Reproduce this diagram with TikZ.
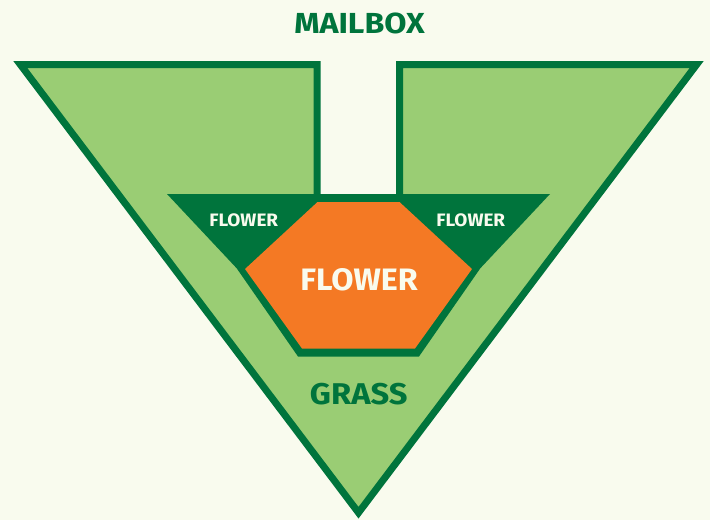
\documentclass[tikz,border=0pt]{standalone}
\usepackage{fontspec}
\setmainfont{Fira Sans}
\definecolor{bgc}{HTML}{F9FBEE}
\definecolor{lgreen}{HTML}{9ACD74}
\definecolor{dgreen}{HTML}{00743C}
\definecolor{orng}{HTML}{F47924}
\begin{document}
\begin{tikzpicture}[x=1pt,y=-1pt,
  lbl/.style={font=\bfseries, inner sep=0pt, anchor=center},
  darktxt/.style={lbl, text=dgreen},
  lighttxt/.style={lbl, text=bgc}]
\fill[bgc] (0,0) rectangle (710,520);
\useasboundingbox (0,0) rectangle (710,520);
% outer grass shape
\draw[line width=7pt, draw=dgreen, fill=lgreen, line join=miter]
  (20.3,64.5) -- (317,64.5) -- (317,197.5) -- (399.5,197.5) -- (399.5,64.5)
  -- (696.7,64.5) -- (358.5,512.7) -- cycle;
% dark flower band
\fill[dgreen] (167,194) -- (550,194) -- (480.3,268.3) -- (419,356.5)
  -- (298,356.5) -- (236.7,268.3) -- cycle;
% orange hexagon
\fill[orng] (317.5,202) -- (399.5,202) -- (472,269) -- (415,348.5)
  -- (302,348.5) -- (245,269) -- cycle;
% labels
\node[darktxt, font=\bfseries\fontsize{29}{29}\selectfont] (mailbox) at (359.5,23.5) {\scalebox{1.11}[1]{MAILBOX}};
\node[darktxt, font=\bfseries\fontsize{30}{30}\selectfont] (grass) at (358.8,394.5) {\scalebox{1.09}[1]{GRASS}};
\node[lighttxt, font=\bfseries\fontsize{31}{31}\selectfont] (fc) at (359,280) {\scalebox{1.04}[1]{FLOWER}};
\node[lighttxt, font=\bfseries\fontsize{18}{18}\selectfont] (fl) at (243.7,220.5) {\scalebox{1.05}[1]{FLOWER}};
\node[lighttxt, font=\bfseries\fontsize{18}{18}\selectfont] (fr) at (470.7,220.5) {\scalebox{1.05}[1]{FLOWER}};
\end{tikzpicture}
\end{document}
